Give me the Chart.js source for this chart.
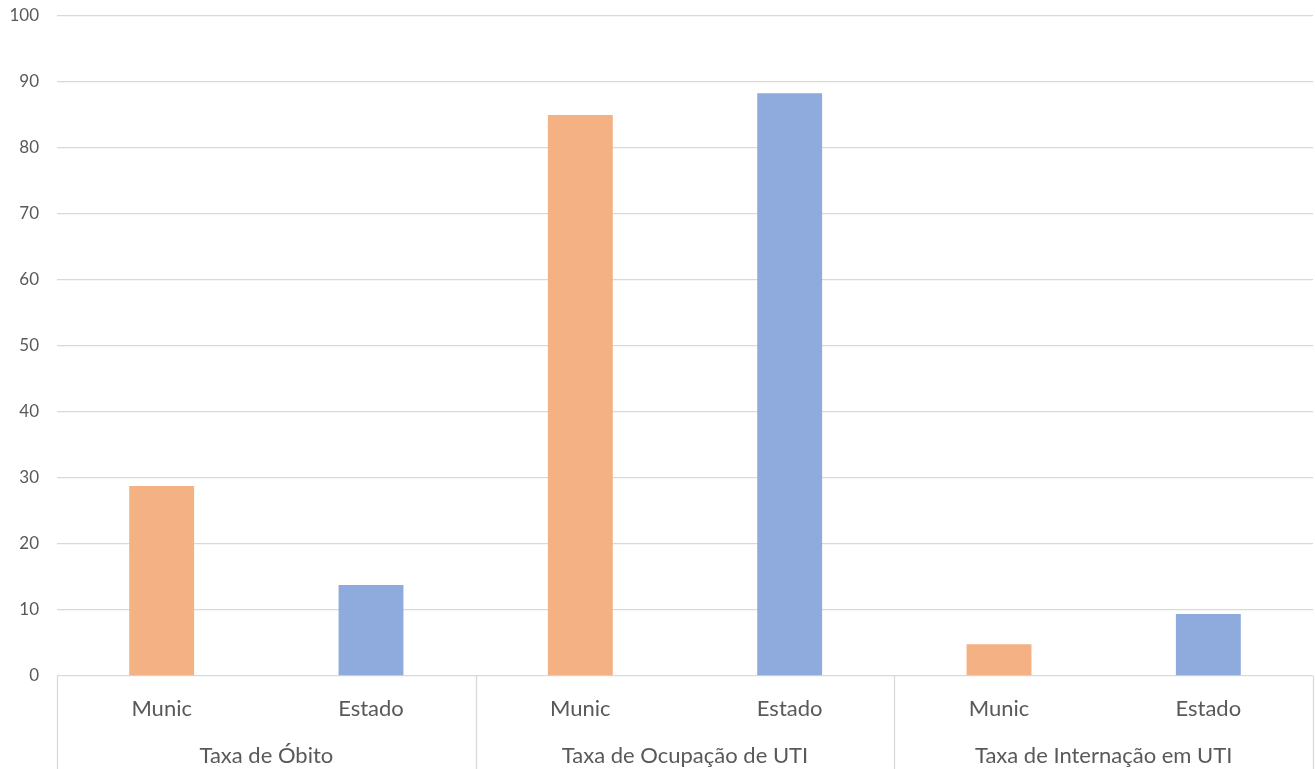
<!DOCTYPE html>
<html>
<head>
<meta charset="utf-8">
<script src="https://cdn.jsdelivr.net/npm/chart.js@4.4.1/dist/chart.umd.min.js"></script>
<style>
	html, body { margin: 0; padding: 0; background: #fff; }
	#wrap { width: 1315px; height: 769px; }
</style>
</head>
<body>
<div id="wrap"><canvas id="grafico"></canvas></div>
<script>
// dados
const grupos = ["Taxa de Óbito", "Taxa de Ocupação de UTI", "Taxa de Internação em UTI"];
const subCategorias = ["Munic", "Estado", "Munic", "Estado", "Munic", "Estado"];
const valores = [28.8, 13.8, 85.0, 88.3, 4.8, 9.4];
const yTicks = [0, 10, 20, 30, 40, 50, 60, 70, 80, 90, 100];

const corMunic = "#F4B183";
const corEstado = "#8FAADC";
const corTexto = "#595959";
const corGrade = "#D9D9D9";
const fonte = "Lato, 'Open Sans', sans-serif";

// desenha os rótulos de grupo e as divisórias do eixo x
const gruposPlugin = {
	id: "gruposPlugin",
	afterDraw(chart) {
		const { ctx, chartArea, scales } = chart;
		const x = scales.x;
		const porGrupo = subCategorias.length / grupos.length;
		const passo = x.getPixelForValue(1) - x.getPixelForValue(0);
		ctx.save();
		ctx.strokeStyle = corGrade;
		ctx.lineWidth = 1.3;
		for (let g = 0; g <= grupos.length; g++) {
			const px = Math.round(x.getPixelForValue(g * porGrupo) - passo / 2) + 0.5;
			ctx.beginPath();
			ctx.moveTo(px, chartArea.bottom);
			ctx.lineTo(px, chart.height);
			ctx.stroke();
		}
		ctx.fillStyle = corTexto;
		ctx.font = `22px ${fonte}`;
		ctx.textAlign = "center";
		ctx.textBaseline = "middle";
		grupos.forEach((nome, g) => {
			const ini = x.getPixelForValue(g * porGrupo);
			const fim = x.getPixelForValue(g * porGrupo + porGrupo - 1);
			ctx.fillText(nome, (ini + fim) / 2, chartArea.bottom + 80);
		});
		ctx.restore();
	},
};

new Chart(document.getElementById("grafico"), {
	type: "bar",
	data: {
		labels: subCategorias,
		datasets: [
			{
				data: valores,
				backgroundColor: subCategorias.map((s) => (s === "Munic" ? corMunic : corEstado)),
				barPercentage: 0.31,
				categoryPercentage: 1,
			},
		],
	},
	options: {
		responsive: true,
		maintainAspectRatio: false,
		animation: false,
		layout: { padding: { top: 16, right: 2, left: 0, bottom: 0 } },
		plugins: { legend: { display: false }, tooltip: { enabled: false } },
		scales: {
			x: {
				grid: { display: false },
				border: { display: false },
				ticks: { color: corTexto, font: { family: fonte, size: 22 }, padding: 12 },
				afterFit: (scale) => { scale.height = 93; },
			},
			y: {
				min: 0,
				max: 100,
				afterBuildTicks: (scale) => { scale.ticks = yTicks.map((v) => ({ value: v })); },
				grid: { color: corGrade, lineWidth: 1.3, drawTicks: false },
				border: { display: false },
				ticks: { color: corTexto, font: { family: fonte, size: 17 }, padding: 18 },
				afterFit: (scale) => {
					scale.width = 57;
					scale.paddingTop = 0;
					scale.paddingBottom = 0;
				},
			},
		},
	},
	plugins: [gruposPlugin],
});
</script>
</body>
</html>
